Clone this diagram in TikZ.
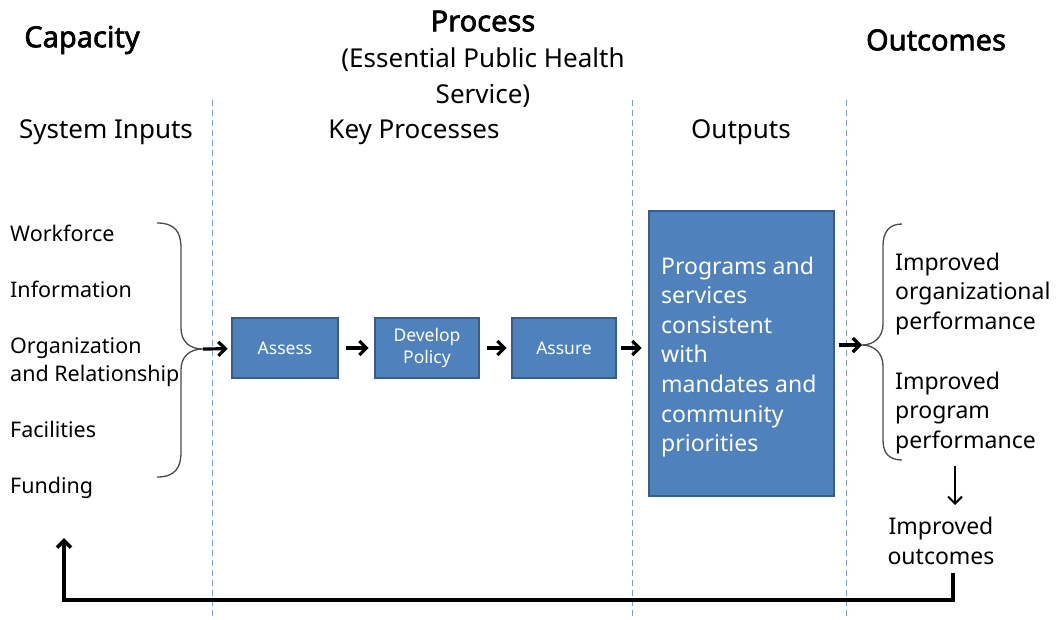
\documentclass[tikz,border=0pt]{standalone}
\usepackage{fontspec}
\setmainfont{Noto Sans}[AutoFakeBold=2.2]
\usetikzlibrary{arrows.meta}
\definecolor{boxfill}{HTML}{4F81BD}
\definecolor{boxline}{HTML}{385D8A}
\definecolor{divider}{HTML}{7F9FCF}
\definecolor{bracecol}{HTML}{4A4A4A}
\begin{document}
\begin{tikzpicture}[x=1pt,y=-1pt,
  head/.style={inner sep=0pt, font=\fontsize{26}{36}\selectfont},
  title/.style={inner sep=0pt, font=\fontsize{29}{36}\selectfont\bfseries},
  item/.style={inner sep=0pt, anchor=base west, font=\fontsize{21.5}{28}\selectfont},
  outtxt/.style={inner sep=0pt, align=left, font=\fontsize{23}{29.6}\selectfont},
  procbox/.style={draw=boxline, fill=boxfill, line width=2.8pt, text=white,
    align=center, inner sep=0pt, minimum height=60pt,
    font=\fontsize{17.5}{24}\selectfont},
  divline/.style={draw=divider, dashed, dash pattern=on 6pt off 4pt, line width=1pt},
  brace/.style={draw=bracecol, line width=1.3pt},
  flow/.style={-{Straight Barb[length=7pt,width=14pt]}, line width=3.2pt},
  thinflow/.style={-{Straight Barb[length=7pt,width=14pt]}, line width=2pt},
  loop/.style={-{Straight Barb[length=7pt,width=14pt]}, line width=3.6pt}
]
\useasboundingbox (0,0) rectangle (1057,619);

% column dividers
\draw[divline] (212,100) -- (212,619);
\draw[divline] (632,100) -- (632,619);
\draw[divline] (846,100) -- (846,619);

% titles
\node[title] (capacity) at (82,40) {Capacity};
\node[title] (outcomes) at (936,40) {Outcomes};
\node[head, align=center] (process) at (483,59)
  {{\bfseries\fontsize{29}{36}\selectfont Process}\\(Essential Public Health\\Service)};

% column headings
\node[head] (inputs) at (106,132) {System Inputs};
\node[head] (keyproc) at (414,132) {Key Processes};
\node[head] (outputs) at (741,132) {Outputs};

% system inputs
\node[item] (workforce) at (10,241) {Workforce};
\node[item] (information) at (10,297) {Information};
\node[item] (organization) at (10,353) {Organization};
\node[item] (relationship) at (10,381) {and Relationship};
\node[item] (facilities) at (10,437) {Facilities};
\node[item] (funding) at (10,493) {Funding};

% brace gathering the inputs
\coordinate (lbrace) at (203,349);
\draw[brace] (157,223) .. controls (175,223) and (181,232) .. (181,248)
  -- (181,328) .. controls (181,342) and (190,349) .. (lbrace)
  .. controls (190,349) and (181,356) .. (181,370)
  -- (181,452) .. controls (181,468) and (175,477) .. (157,477);

% key processes
\node[procbox, minimum width=106pt] (assess) at (285,348) {Assess};
\node[procbox, minimum width=104pt] (develop) at (427,348) {Develop\\[-2pt]Policy};
\node[procbox, minimum width=104pt] (assure) at (564,348) {Assure};

% output box
\node[procbox, minimum width=185pt, minimum height=285pt] (output) at (741.5,353.5) {};
\node[outtxt, text=white, anchor=west] (outputtext) at (661,357)
  {Programs and\\services\\consistent\\with\\mandates and\\community\\priorities};

% brace gathering the outcomes
\coordinate (rbrace) at (862,345);
\draw[brace] (902,224) .. controls (889,224) and (883,232) .. (883,246)
  -- (883,324) .. controls (883,337) and (874,345) .. (rbrace)
  .. controls (874,345) and (883,353) .. (883,366)
  -- (883,440) .. controls (883,453) and (889,460) .. (902,460);

% outcomes
\node[outtxt, anchor=west] (orgperf) at (895,294)
  {Improved\\organizational\\performance};
\node[outtxt, anchor=west] (progperf) at (895,413)
  {Improved\\program\\performance};
\node[outtxt, align=center] (improved) at (941,541)
  {Improved\\outcomes};

% flow arrows
\draw[flow, shorten >=3pt] (lbrace) -- (assess);
\draw[flow, shorten <=7pt, shorten >=5pt] (assess) -- (develop);
\draw[flow, shorten <=7pt, shorten >=4pt] (develop) -- (assure);
\draw[flow, shorten <=4pt, shorten >=6pt] (assure) -- (output.west |- assure.east);
\draw[flow, shorten <=4pt] (output.east |- rbrace) -- (rbrace);

% to the final outcome
\coordinate (downstart) at (955,466);
\draw[thinflow] (downstart) -- (955,505);

% feedback to the inputs
\coordinate (fbstart) at (953,573);
\coordinate (fbend) at (64,538);
\draw[loop] (fbstart) -- (953,600) -- (64,600) -- (fbend);
\end{tikzpicture}
\end{document}
